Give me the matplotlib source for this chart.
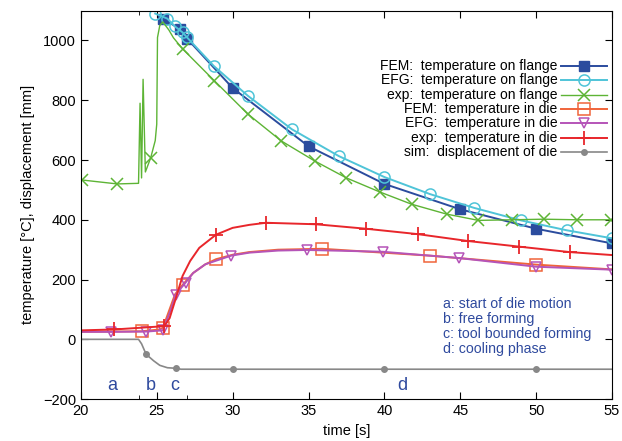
import numpy as np
import matplotlib
matplotlib.use("Agg")
import matplotlib.pyplot as plt

plt.rcParams['font.family'] = ['Liberation Sans', 'DejaVu Sans']
plt.rcParams['font.size'] = 10

# ---------- data ----------

# FEM: temperature on flange
fem_fl_t = [25.4, 26.5, 27.0, 30.0, 35.0, 40.0, 45.0, 50.0, 55.0]
fem_fl_T = [1073, 1039, 1006, 841, 646, 520, 435, 370, 321]

# EFG: temperature on flange
efg_fl_t = [24.9, 25.7, 26.2, 26.7, 27.0, 28.75, 31.0, 33.9, 37.0, 40.0, 43.0, 45.9, 49.0, 52.0, 55.0]
efg_fl_T = [1090, 1073, 1047, 1027, 1010, 915, 815, 703, 613, 543, 486, 440, 398, 365, 338]

# exp: temperature on flange (line vertices, markers where flagged)
exp_fl_t = [20.1, 22.4, 23.8, 23.9, 24.0, 24.1, 24.25, 24.6, 24.9, 25.0, 25.05, 25.2, 25.4,
            25.8, 26.1, 26.7, 28.8, 31.0, 33.2, 35.4, 37.5, 39.7, 41.8, 44.1, 46.2,
            48.4, 50.5, 52.7, 54.9]
exp_fl_T = [533, 520, 522, 790, 540, 870, 560, 607, 665, 720, 1010, 1050, 1062,
            1035, 1009, 972, 865, 754, 664, 597, 540, 493, 452, 419, 398,
            400, 402, 400, 400]
exp_fl_mark = [0, 1, 7] + list(range(15, 29))

# FEM: temperature in die
fem_die_t = [20.0, 24.0, 25.2, 25.4, 26.2, 26.7, 27.4, 28.2, 28.9, 30.0, 31.1, 33.0,
             35.9, 43.0, 50.0, 55.0]
fem_die_T = [25, 27, 33, 38, 150, 182, 222, 251, 268, 283, 292, 300,
             303, 280, 250, 234]
fem_die_mark = [1, 3, 5, 8, 12, 13, 14]

# EFG: temperature in die
efg_die_t = [20.0, 22.0, 24.3, 25.4, 25.9, 26.25, 26.9, 27.4, 28.2, 29.9, 31.1, 33.0,
             34.9, 39.9, 44.9, 50.0, 55.0]
efg_die_T = [25, 25, 26, 30, 95, 150, 190, 222, 251, 280, 290, 297,
             299, 293, 272, 243, 233]
efg_die_mark = [1, 2, 3, 5, 6, 9, 12, 13, 14, 15, 16]

# exp: temperature in die
exp_die_t = [20.0, 22.2, 25.5, 25.85, 26.2, 26.5, 26.7, 27.2, 27.8, 28.9, 30.0, 31.1, 32.2,
             35.5, 38.8, 42.2, 45.5, 48.9, 52.2, 55.0]
exp_die_T = [30, 33, 44, 71, 128, 178, 212, 262, 306, 350, 373, 383, 390,
             385, 370, 352, 329, 310, 292, 282]
exp_die_mark = [1, 2, 9, 12, 13, 14, 15, 16, 17, 18]

# sim: displacement of die
sim_t = [20.0, 23.8, 24.0, 24.3, 24.8, 25.2, 25.7, 26.3, 26.6, 30.0, 40.0, 50.0, 55.0]
sim_d = [0, 0, -15, -50, -72, -87, -95, -97, -100, -100, -100, -100, -100]
sim_mark = [3, 7, 9, 10, 11]

phase_labels = ['a', 'b', 'c', 'd']
phase_t = [22.1, 24.6, 26.2, 41.2]
phase_note = ("a: start of die motion\nb: free forming\n"
              "c: tool bounded forming\nd: cooling phase")

# ---------- plotting ----------

fig = plt.figure(figsize=(6.22, 4.41), dpi=100)
ax = fig.add_axes([0.130, 0.095, 0.854, 0.881])

c_fem_fl = '#2b4c9e'
c_efg_fl = '#4fc4d8'
c_exp_fl = '#5db435'
c_fem_die = '#f0643a'
c_efg_die = '#b554b8'
c_exp_die = '#e8262b'
c_sim = '#888888'
c_txt = '#2f4a9e'

series = [
    (fem_fl_t, fem_fl_T, 'FEM:  temperature on flange',
     dict(color=c_fem_fl, lw=1.4, marker='s', ms=7)),
    (efg_fl_t, efg_fl_T, 'EFG:  temperature on flange',
     dict(color=c_efg_fl, lw=1.4, marker='o', ms=8, mfc='none', mew=1.1)),
    (exp_fl_t, exp_fl_T, 'exp:  temperature on flange',
     dict(color=c_exp_fl, lw=1.0, marker='x', ms=8, mew=1.1, markevery=exp_fl_mark)),
    (fem_die_t, fem_die_T, 'FEM:  temperature in die',
     dict(color=c_fem_die, lw=1.4, marker='s', ms=9, mfc='none', mew=1.1, markevery=fem_die_mark)),
    (efg_die_t, efg_die_T, 'EFG:  temperature in die',
     dict(color=c_efg_die, lw=1.4, marker='v', ms=7, mfc='none', mew=1.1, markevery=efg_die_mark)),
    (exp_die_t, exp_die_T, 'exp:  temperature in die',
     dict(color=c_exp_die, lw=1.4, marker='+', ms=10, mew=1.3, markevery=exp_die_mark)),
    (sim_t, sim_d, 'sim:  displacement of die',
     dict(color=c_sim, lw=1.2, marker='o', ms=4, markevery=sim_mark)),
]

for x, y, lab, st in series:
    ax.plot(x, y, **st)

# gnuplot-style key: right-aligned text, sample on the right
x_txt, x0, x1 = 0.897, 0.903, 0.990
y_top, dy = 0.857, 0.0368
for i, (x, y, lab, st) in enumerate(series):
    yy = y_top - i * dy
    kst = dict(st)
    kst['markevery'] = [1]
    ax.plot([x0, (x0 + x1) / 2, x1], [yy, yy, yy], transform=ax.transAxes,
            clip_on=False, **kst)
    ax.text(x_txt, yy, lab, transform=ax.transAxes, ha='right', va='center',
            fontsize=10)

ax.set_xlim(20, 55)
ax.set_ylim(-200, 1100)
ax.set_xticks(np.arange(20, 56, 5))
ax.set_yticks(np.arange(-200, 1001, 200))
ax.set_xticks([23.8, 27.0], minor=True)
ax.tick_params(which='both', direction='in', top=True, right=True, length=5, labelsize=10.5)
ax.tick_params(which='minor', length=3)
ax.set_xlabel('time [s]', fontsize=10.5, labelpad=4)
ax.set_ylabel('temperature [°C], displacement [mm]', fontsize=10.5, labelpad=6)
ax.set_yticklabels(['\u2212200' if v < 0 else str(v) for v in np.arange(-200, 1001, 200)])

for lab, t in zip(phase_labels, phase_t):
    ax.text(t, -155, lab, color=c_txt, fontsize=13, ha='center', va='center')
ax.text(43.85, 141, phase_note, color=c_txt, fontsize=10.2, ha='left', va='top',
        linespacing=1.08)

fig.savefig('out.png', dpi=100)
